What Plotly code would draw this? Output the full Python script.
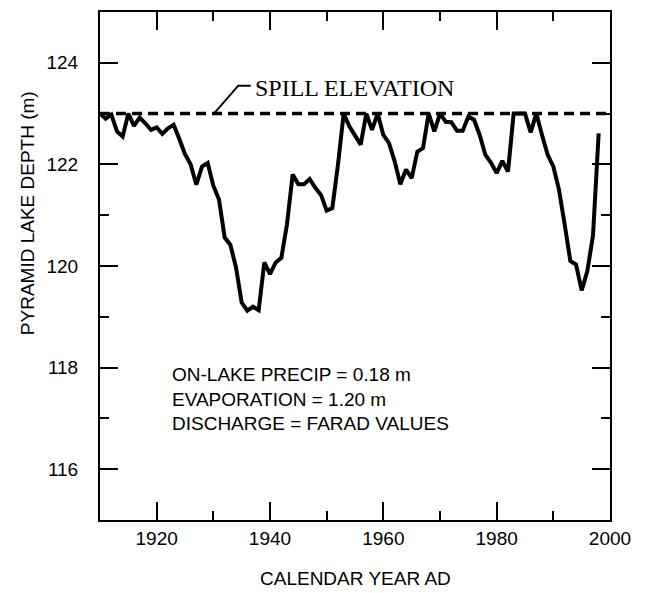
import plotly.graph_objects as go

# annual lake level
YEARS = list(range(1910, 1999))
DEPTH_M = [
    123.0, 122.9, 122.98, 122.65, 122.55, 123.0, 122.76, 122.92, 122.81, 122.68,  # 1910s
    122.73, 122.6, 122.71, 122.78, 122.5, 122.2, 122.0, 121.6, 121.96, 122.03,    # 1920s
    121.58, 121.31, 120.56, 120.42, 119.97, 119.28, 119.12, 119.2, 119.13, 120.07,  # 1930s
    119.84, 120.07, 120.16, 120.82, 121.8, 121.61, 121.61, 121.71, 121.54, 121.4,  # 1940s
    121.09, 121.14, 122.0, 123.0, 122.75, 122.58, 122.39, 123.0, 122.68, 123.0,    # 1950s
    122.58, 122.42, 122.06, 121.61, 121.9, 121.73, 122.25, 122.32, 123.0, 122.65,  # 1960s
    123.0, 122.84, 122.83, 122.66, 122.66, 122.94, 122.88, 122.58, 122.19, 122.03,  # 1970s
    121.83, 122.07, 121.86, 123.0, 123.0, 123.0, 122.63, 123.0, 122.58, 122.19,    # 1980s
    121.96, 121.5, 120.82, 120.1, 120.03, 119.52, 119.9, 120.6, 122.61,            # 1990s
]
SPILL_X = [1910, 2000]
SPILL_Y = [123.0, 123.0]

NOTES = ["ON-LAKE PRECIP = 0.18 m", "EVAPORATION = 1.20 m", "DISCHARGE = FARAD VALUES"]

SANS = "Liberation Sans, Arial, sans-serif"
SERIF = "Liberation Serif, Times New Roman, serif"

fig = go.Figure()
# spill line sits on yaxis2, which only exists to draw the inside ticks
fig.add_trace(go.Scatter(
    x=SPILL_X, y=SPILL_Y, mode="lines", yaxis="y2",
    line=dict(color="black", width=3.5, dash="10px,6px"),
))
fig.add_trace(go.Scatter(
    x=YEARS, y=DEPTH_M, mode="lines",
    line=dict(color="black", width=4),
))

# leader from dashed line to label
fig.add_shape(
    type="path", path="M 1930.1 123 L 1934.4 123.55 L 1936.6 123.55",
    line=dict(color="black", width=2),
)
fig.add_annotation(
    x=1937.0, y=123.5, text="SPILL ELEVATION", showarrow=False,
    xanchor="left", yanchor="middle", font=dict(family=SERIF, size=24, color="black"),
)
fig.add_annotation(
    x=1922.4, y=117.38, text="<br>".join(NOTES), showarrow=False, align="left",
    xanchor="left", yanchor="middle", font=dict(family=SANS, size=19, color="black"),
)
fig.add_annotation(
    xref="paper", yref="paper", x=0.5, y=0, yshift=-58, text="CALENDAR YEAR AD",
    showarrow=False, xanchor="center", yanchor="middle",
    font=dict(family=SANS, size=19, color="black"),
)
fig.add_annotation(
    xref="paper", yref="paper", x=0, xshift=-73, y=0.604, text="PYRAMID LAKE DEPTH (m)",
    textangle=-90, showarrow=False, xanchor="center", yanchor="middle",
    font=dict(family=SANS, size=19, color="black"),
)

tick_font = dict(family=SANS, size=19, color="black")
fig.update_xaxes(
    showline=True, linecolor="black", linewidth=2, mirror="ticks",
    ticks="inside", ticklen=18, tickwidth=1.5, tickcolor="black",
    showgrid=False, zeroline=False, tickfont=tick_font,
    range=[1910, 2000], tick0=1920, dtick=20,
    minor=dict(ticks="inside", ticklen=9, tickwidth=1.5, tickcolor="black", dtick=10, tick0=1910),
)
fig.update_layout(
    yaxis=dict(
        showline=True, linecolor="black", linewidth=2, mirror=True,
        ticks="outside", ticklen=16, tickcolor="rgba(0,0,0,0)",
        showgrid=False, zeroline=False, tickfont=tick_font,
        range=[115, 125], tick0=116, dtick=2,
    ),
    yaxis2=dict(
        overlaying="y", matches="y", showticklabels=False,
        showline=True, linecolor="black", linewidth=2, mirror="ticks",
        ticks="inside", ticklen=18, tickwidth=1.5, tickcolor="black",
        showgrid=False, zeroline=False,
        range=[115, 125], tick0=116, dtick=2,
        minor=dict(ticks="inside", ticklen=9, tickwidth=1.5, tickcolor="black", dtick=1, tick0=115),
    ),
    width=648, height=593,
    margin=dict(l=100, r=38, t=10, b=73),
    plot_bgcolor="white", paper_bgcolor="white",
    showlegend=False,
)
fig.write_html(
    "out.html",
    config={"displayModeBar": False},
    post_script="document.body.style.margin='0';",
)
